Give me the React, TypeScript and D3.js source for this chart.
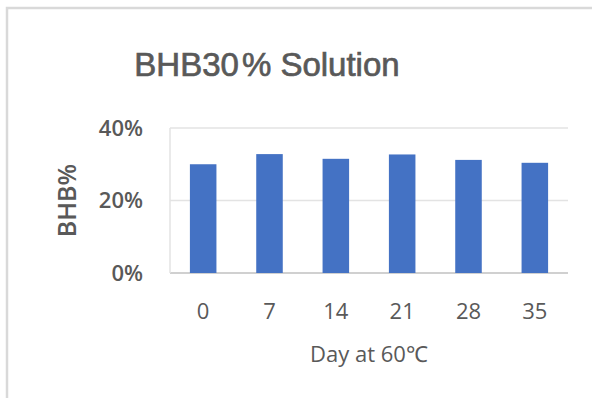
import React from "react";
import * as d3 from "d3";

const days = ["0", "7", "14", "21", "28", "35"];
const bhbValues = [0.3, 0.328, 0.315, 0.327, 0.312, 0.304];
const yTicks = [0, 0.2, 0.4];
const titleMain = "BHB30";
const titleRest = "% Solution";
const xTitle = "Day at 60℃";
const yTitle = "BHB%";

const W = 592;
const H = 398;
const plot = { left: 170, right: 568, top: 128, bottom: 273 };
const textColor = "#595959";
const font = "'Open Sans', 'Liberation Sans', sans-serif";

export default function App() {
  const x = d3
    .scaleBand<string>()
    .domain(days)
    .range([plot.left, plot.right])
    .paddingInner(0.6)
    .paddingOuter(0.3);
  const y = d3.scaleLinear().domain([0, 0.4]).range([plot.bottom, plot.top]);
  const fmt = d3.format(".0%");

  return (
    <svg
      width={W}
      height={H}
      style={{ position: "absolute", left: 0, top: 0, background: "#fff" }}
    >
      {/* chart frame */}
      <rect x={7} y={8} width={W + 10} height={H + 10} fill="none" stroke="#d9d9d9" strokeWidth={2.5} />

      <text
        x={267}
        y={76}
        textAnchor="middle"
        fill={textColor}
        stroke={textColor}
        strokeWidth={0.7}
        fontFamily="'Liberation Sans', Arial, sans-serif"
        fontSize={33}
      >
        {titleMain}
        <tspan dx={3}>{titleRest}</tspan>
      </text>

      {/* gridlines */}
      {yTicks.map((t) => (
        <line
          key={t}
          x1={plot.left}
          x2={plot.right}
          y1={y(t)}
          y2={y(t)}
          stroke={t === 0 ? "#d0d0d0" : "#e3e3e3"}
          strokeWidth={t === 0 ? 2 : 1.5}
        />
      ))}
      <line x1={plot.left} x2={plot.left} y1={plot.top} y2={plot.bottom} stroke="#e3e3e3" strokeWidth={1.5} />

      {/* bars */}
      {days.map((d, i) => (
        <rect
          key={d}
          x={x(d)}
          y={y(bhbValues[i])}
          width={x.bandwidth()}
          height={y(0) - y(bhbValues[i])}
          fill="#4472C4"
        />
      ))}

      {/* y tick labels */}
      {yTicks.map((t) => (
        <text
          key={t}
          x={143}
          y={y(t)}
          dy="0.35em"
          textAnchor="end"
          fill={textColor}
          fontFamily={font}
          fontWeight={600}
          fontSize={22}
        >
          {fmt(t)}
        </text>
      ))}

      {/* x tick labels */}
      {days.map((d) => (
        <text
          key={d}
          x={(x(d) ?? 0) + x.bandwidth() / 2}
          y={319}
          textAnchor="middle"
          fill={textColor}
          fontFamily={font}
          fontWeight={500}
          fontSize={22}
        >
          {d}
        </text>
      ))}

      <text
        x={(plot.left + plot.right) / 2}
        y={362}
        textAnchor="middle"
        fill={textColor}
        fontFamily={font}
        fontWeight={500}
        fontSize={22}
      >
        {xTitle}
      </text>

      <text
        transform={`translate(76, ${(plot.top + plot.bottom) / 2}) rotate(-90)`}
        textAnchor="middle"
        fill={textColor}
        fontFamily={font}
        fontWeight={600}
        fontSize={25}
      >
        {yTitle}
      </text>
    </svg>
  );
}
